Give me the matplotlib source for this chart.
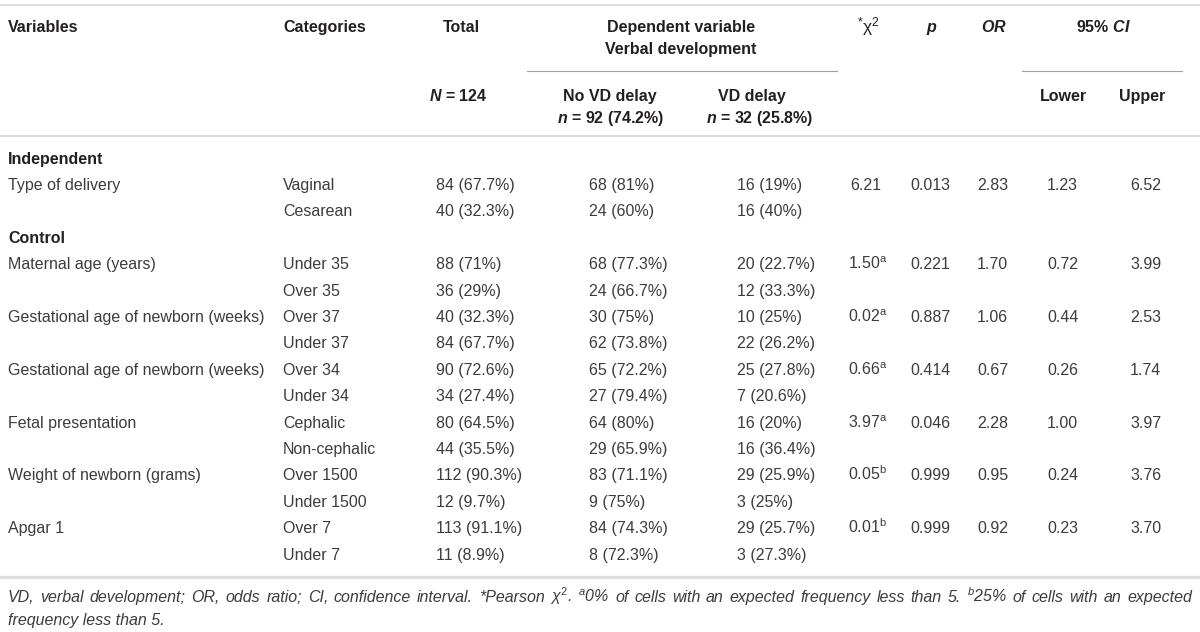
import matplotlib
matplotlib.use("Agg")
import matplotlib.pyplot as plt

plt.rcParams["font.family"] = "Liberation Sans"
plt.rcParams["mathtext.fontset"] = "custom"
plt.rcParams["mathtext.rm"] = "Liberation Sans"
plt.rcParams["mathtext.it"] = "Liberation Sans:italic"
plt.rcParams["mathtext.bf"] = "Liberation Sans:bold"
plt.rcParams["mathtext.bfit"] = "Liberation Sans:bold:italic"

# table data
groups = ["Independent", "Control"]
variables = ["Type of delivery", "Maternal age (years)",
             "Gestational age of newborn (weeks)", "Gestational age of newborn (weeks)",
             "Fetal presentation", "Weight of newborn (grams)", "Apgar 1"]
group_of = [0, 1, 1, 1, 1, 1, 1]
categories = [("Vaginal", "Cesarean"), ("Under 35", "Over 35"), ("Over 37", "Under 37"),
              ("Over 34", "Under 34"), ("Cephalic", "Non-cephalic"),
              ("Over 1500", "Under 1500"), ("Over 7", "Under 7")]
total = [("84 (67.7%)", "40 (32.3%)"), ("88 (71%)", "36 (29%)"), ("40 (32.3%)", "84 (67.7%)"),
         ("90 (72.6%)", "34 (27.4%)"), ("80 (64.5%)", "44 (35.5%)"),
         ("112 (90.3%)", "12 (9.7%)"), ("113 (91.1%)", "11 (8.9%)")]
no_delay = [("68 (81%)", "24 (60%)"), ("68 (77.3%)", "24 (66.7%)"), ("30 (75%)", "62 (73.8%)"),
            ("65 (72.2%)", "27 (79.4%)"), ("64 (80%)", "29 (65.9%)"),
            ("83 (71.1%)", "9 (75%)"), ("84 (74.3%)", "8 (72.3%)")]
delay = [("16 (19%)", "16 (40%)"), ("20 (22.7%)", "12 (33.3%)"), ("10 (25%)", "22 (26.2%)"),
         ("25 (27.8%)", "7 (20.6%)"), ("16 (20%)", "16 (36.4%)"),
         ("29 (25.9%)", "3 (25%)"), ("29 (25.7%)", "3 (27.3%)")]
chi2 = ["6.21", "1.50", "0.02", "0.66", "3.97", "0.05", "0.01"]
chi2_note = ["", "a", "a", "a", "a", "b", "b"]
p_vals = ["0.013", "0.221", "0.887", "0.414", "0.046", "0.999", "0.999"]
odds = ["2.83", "1.70", "1.06", "0.67", "2.28", "0.95", "0.92"]
ci_low = ["1.23", "0.72", "0.44", "0.26", "1.00", "0.24", "0.23"]
ci_up = ["6.52", "3.99", "2.53", "1.74", "3.97", "3.76", "3.70"]

footnote = (r"VD, verbal development; OR, odds ratio; CI, confidence interval. *Pearson $\chi^{2}$. "
            r"$^{a}$0% of cells with an expected frequency less than 5. "
            r"$^{b}$25% of cells with an expected")
footnote2 = "frequency less than 5."

W, H = 1200, 632
fig = plt.figure(figsize=(W / 100, H / 100), dpi=100)
ax = fig.add_axes([0, 0, 1, 1])
ax.set_xlim(0, W)
ax.set_ylim(H, 0)
ax.axis("off")

fs = 11.5
body = "#3c3c3c"
head = "#231f20"
dy = 5.6  # centre -> baseline

def txt(x, y, s, ha="left", bold=False, color=body, size=fs, style="normal"):
    return ax.text(x, y + dy * size / fs, s, ha=ha, va="baseline", fontsize=size, color=color,
                   fontweight="bold" if bold else "normal", fontstyle=style)

# rules
ax.plot([0, W], [5, 5], color="#dddddd", lw=1.5, solid_capstyle="butt")
ax.plot([527, 837], [71, 71], color="#a0a0a0", lw=0.8)
ax.plot([1022, 1182], [71, 71], color="#a0a0a0", lw=0.8)
ax.plot([0, W], [136, 136], color="#dddddd", lw=1.5)
ax.plot([0, W], [577, 577], color="#dddddd", lw=2.4)

# column positions (left edges of body cells)
x_var, x_cat, x_tot, x_no, x_yes = 8, 283, 436, 589, 737
x_chi, x_p, x_or, x_lo, x_up = 848, 910, 977, 1047, 1130

# header
txt(x_var, 26, "Variables", bold=True, color=head)
txt(x_cat, 26, "Categories", bold=True, color=head)
txt(461, 26, "Total", ha="center", bold=True, color=head)
txt(681, 26, "Dependent variable", ha="center", bold=True, color=head)
txt(681, 48, "Verbal development", ha="center", bold=True, color=head)
txt(868, 26, r"$^{*}\mathrm{\chi}^{2}$", ha="center", color=head, size=12.5)
txt(932, 26, r"$\mathbfit{p}$", ha="center", bold=True, color=head)
txt(994, 26, r"$\mathbfit{OR}$", ha="center", bold=True, color=head)
txt(1103, 26, r"95% $\mathbfit{CI}$", ha="center", bold=True, color=head)
txt(458, 95, r"$\mathbfit{N}$ = 124", ha="center", bold=True, color=head)
txt(610, 95, "No VD delay", ha="center", bold=True, color=head)
txt(611, 117, r"$\mathbfit{n}$ = 92 (74.2%)", ha="center", bold=True, color=head)
txt(752, 95, "VD delay", ha="center", bold=True, color=head)
txt(760, 117, r"$\mathbfit{n}$ = 32 (25.8%)", ha="center", bold=True, color=head)
txt(1063, 95, "Lower", ha="center", bold=True, color=head)
txt(1142, 95, "Upper", ha="center", bold=True, color=head)

# body rows
row_h = 26.4
y = 158
last_group = None
for i in range(len(variables)):
    g = group_of[i]
    if g != last_group:
        txt(x_var, y, groups[g], bold=True, color=head)
        y += row_h
        last_group = g
    txt(x_var, y, variables[i])
    for k in range(2):
        yy = y + k * row_h
        txt(x_cat, yy, categories[i][k])
        txt(x_tot, yy, total[i][k])
        txt(x_no, yy, no_delay[i][k])
        txt(x_yes, yy, delay[i][k])
    note = r"$^{\mathrm{%s}}$" % chi2_note[i] if chi2_note[i] else ""
    txt(x_chi + (0 if note else 2), y, chi2[i] + note)
    txt(x_p, y, p_vals[i])
    txt(x_or, y, odds[i])
    txt(x_lo, y, ci_low[i])
    txt(x_up, y, ci_up[i])
    y += 2 * row_h

# footnote, first line justified across the width
fsn = 11.5
renderer = fig.canvas.get_renderer()
words = footnote.split(" ")
pieces = [txt(0, 596, w, style="italic", size=fsn) for w in words]
widths = [p.get_window_extent(renderer).width for p in pieces]
gap = (1192 - 8 - sum(widths)) / (len(words) - 1)
x = 8
for p, w in zip(pieces, widths):
    p.set_x(x)
    x += w + gap
txt(8, 619, footnote2, style="italic", size=fsn)

fig.savefig("out.png", dpi=100)
